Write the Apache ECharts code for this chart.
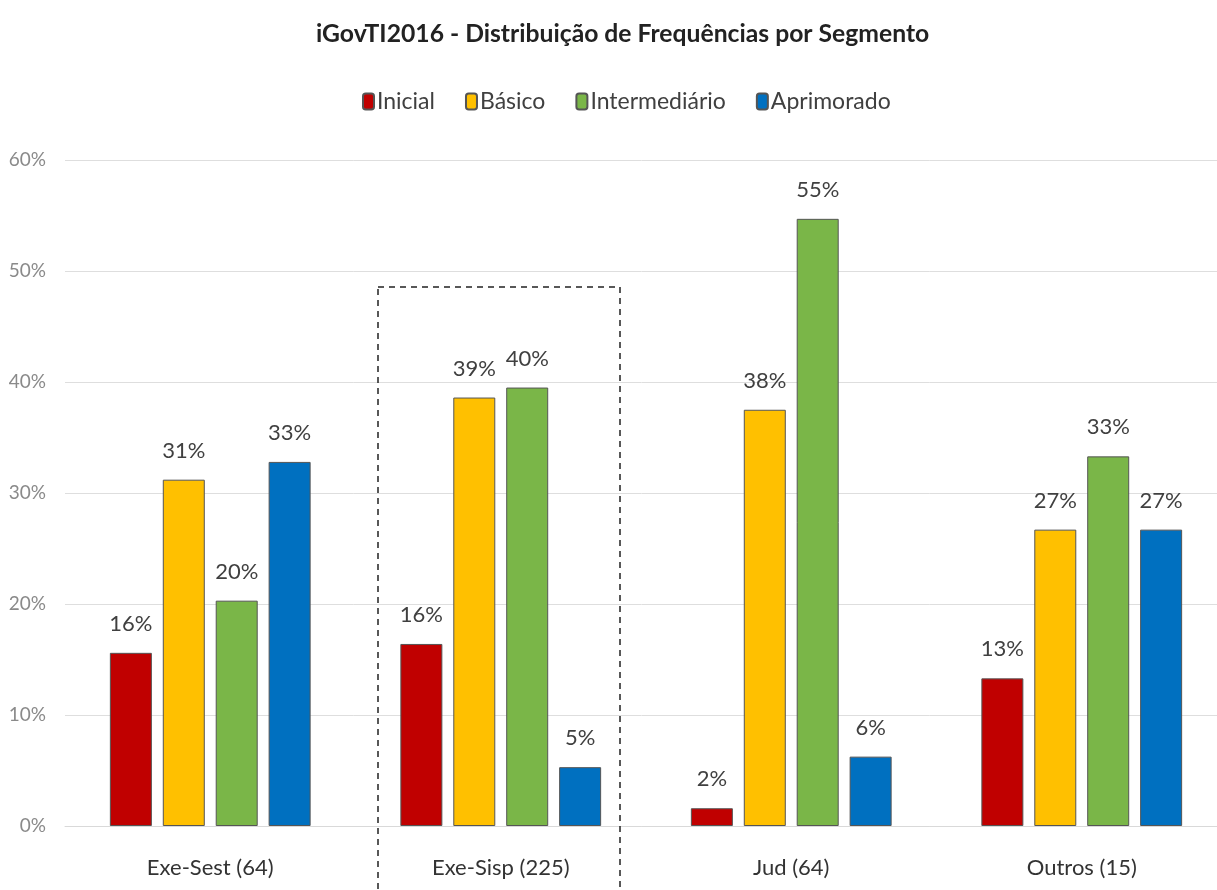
<!DOCTYPE html>
<html>
<head>
<meta charset="utf-8">
<script src="https://cdn.jsdelivr.net/npm/echarts@6/dist/echarts.min.js"></script>
<style>
  html, body { margin: 0; padding: 0; background: #fff; }
  #chart { width: 1217px; height: 890px; }
</style>
</head>
<body>
<div id="chart"></div>
<script>
var categories = ['Exe-Sest (64)', 'Exe-Sisp (225)', 'Jud (64)', 'Outros (15)'];
var seriesNames = ['Inicial', 'Básico', 'Intermediário', 'Aprimorado'];
var inicial = [15.6, 16.4, 1.6, 13.3];
var basico = [31.2, 38.6, 37.5, 26.7];
var intermediario = [20.3, 39.5, 54.7, 33.3];
var aprimorado = [32.8, 5.3, 6.25, 26.7];
var colors = ['#C00000', '#FFC000', '#7AB648', '#0070C0'];

var font = 'Lato, "Open Sans", sans-serif';
var chart = echarts.init(document.getElementById('chart'));

function makeSeries(name, data, i) {
    return {
        name: name,
        type: 'bar',
        data: data,
        barWidth: 42,
        barGap: '26%',
        itemStyle: {
            color: colors[i],
            borderColor: '#555',
            borderWidth: 1
        },
        label: {
            show: true,
            position: 'top',
            distance: 18,
            color: '#404040',
            fontFamily: font,
            fontSize: 22,
            formatter: function(p) { return Math.round(p.value) + '%'; }
        }
    };
}

var option = {
    backgroundColor: '#fff',
    animation: false,
    title: {
        text: 'iGovTI2016 - Distribuição de Frequências por Segmento',
        left: 311,
        top: 17,
        textStyle: {
            fontFamily: font,
            fontSize: 24.7,
            fontWeight: 'bold',
            color: '#222'
        }
    },
    legend: {
        top: 85,
        left: 357,
        itemWidth: 11,
        itemHeight: 16,
        itemGap: 30,
        data: seriesNames,
        textStyle: {
            fontFamily: font,
            fontSize: 23,
            color: '#404040',
            padding: [0, 0, 0, -2]
        }
    },
    grid: {
        left: 65,
        right: -10,
        top: 160,
        bottom: 64,
        outerBoundsMode: 'none'
    },
    xAxis: {
        type: 'category',
        data: categories,
        axisLine: { show: true, lineStyle: { color: '#d9d9d9' } },
        axisTick: { show: false },
        axisLabel: {
            margin: 31,
            fontFamily: font,
            fontSize: 22,
            color: '#333'
        }
    },
    yAxis: {
        type: 'value',
        min: 0,
        max: 60,
        interval: 10,
        axisLine: { show: false },
        axisTick: { show: false },
        splitLine: { lineStyle: { color: '#dedede', width: 1 } },
        axisLabel: {
            margin: 19,
            fontFamily: font,
            fontSize: 19,
            color: '#8a8a8a',
            formatter: '{value}%'
        }
    },
    graphic: [{
        type: 'rect',
        shape: { x: 378, y: 287, width: 242, height: 620 },
        style: {
            fill: 'none',
            stroke: '#222',
            lineWidth: 1.5,
            lineDash: [6, 5]
        },
        z: 10
    }],
    series: [
        makeSeries(seriesNames[0], inicial, 0),
        makeSeries(seriesNames[1], basico, 1),
        makeSeries(seriesNames[2], intermediario, 2),
        makeSeries(seriesNames[3], aprimorado, 3)
    ]
};

chart.setOption(option);

window.onresize = function() {
    chart.resize();
};
</script>
</body>
</html>
